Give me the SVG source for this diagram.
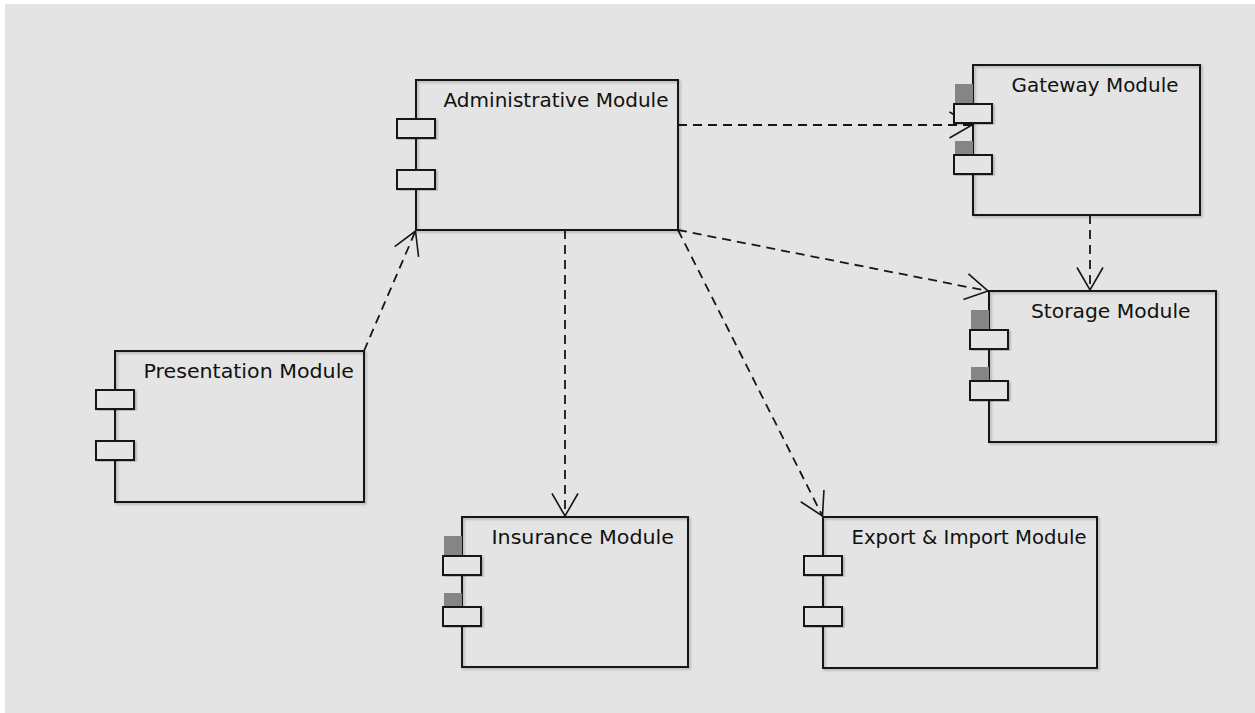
<svg xmlns="http://www.w3.org/2000/svg" width="1255" height="713" viewBox="0 0 1255 713">
  <style>
    .frame { fill: none; stroke: #161616; stroke-width: 2; }
    .port { fill: #e4e4e4; stroke: #161616; stroke-width: 2; }
    .tab { fill: #858585; }
    .label { font-family: "DejaVu Sans", "Liberation Sans", sans-serif; font-size: 20px; fill: #111111; }
    .dep { fill: none; stroke: #161616; stroke-width: 1.8; stroke-dasharray: 9 6; }
    .head { fill: none; stroke: #161616; stroke-width: 1.6; stroke-dasharray: none; }
  </style>
  <defs>
    <filter id="soft" x="-5%" y="-5%" width="115%" height="115%">
      <feDropShadow dx="1.5" dy="1.5" stdDeviation="1" flood-color="#000" flood-opacity="0.25"/>
    </filter>
    <filter id="blurTab" x="-20%" y="-20%" width="140%" height="140%">
      <feGaussianBlur stdDeviation="0.6"/>
    </filter>
    <marker id="open" viewBox="-30 -16 34 32" refX="0" refY="0" markerWidth="34" markerHeight="32" markerUnits="userSpaceOnUse" orient="auto">
      <path class="head" d="M-22.5,-13 L0,0 L-22.5,13"/>
    </marker>
  </defs>

  <!-- canvas -->
  <rect x="0" y="0" width="1255" height="713" fill="#ffffff"/>
  <rect x="5" y="4" width="1250" height="709" fill="#e4e4e4"/>

  <!-- dependencies -->
  <g id="connectors">
    <path class="dep" d="M678,125 L972,125" marker-end="url(#open)"/>
    <path class="dep" d="M1090,215 L1090,290" marker-end="url(#open)"/>
    <path class="dep" d="M678,230 L988,291" marker-end="url(#open)"/>
    <path class="dep" d="M364,351 L415.5,231" marker-end="url(#open)"/>
    <path class="dep" d="M565,230 L565,516" marker-end="url(#open)"/>
    <path class="dep" d="M678,230 L822.5,516" marker-end="url(#open)"/>
  </g>

  <!-- components -->
  <g id="administrative-module">
    <rect class="frame" x="416" y="80" width="262" height="150" filter="url(#soft)"/>
    <rect class="port" x="397" y="119" width="38" height="19" filter="url(#soft)"/>
    <rect class="port" x="397" y="170" width="38" height="19" filter="url(#soft)"/>
    <text class="label" x="443.5" y="106.5" textLength="225" lengthAdjust="spacingAndGlyphs">Administrative Module</text>
  </g>

  <g id="gateway-module">
    <rect class="frame" x="973" y="65" width="227" height="150" filter="url(#soft)"/>
    <rect class="tab" x="955" y="84" width="18" height="20" filter="url(#blurTab)"/>
    <rect class="tab" x="955" y="141" width="18" height="14" filter="url(#blurTab)"/>
    <rect class="port" x="954" y="104" width="38" height="19" filter="url(#soft)"/>
    <rect class="port" x="954" y="155" width="38" height="19" filter="url(#soft)"/>
    <text class="label" x="1011.5" y="91.5" textLength="167" lengthAdjust="spacingAndGlyphs">Gateway Module</text>
  </g>

  <g id="presentation-module">
    <rect class="frame" x="115" y="351" width="249" height="151" filter="url(#soft)"/>
    <rect class="port" x="96" y="390" width="38" height="19" filter="url(#soft)"/>
    <rect class="port" x="96" y="441" width="38" height="19" filter="url(#soft)"/>
    <text class="label" x="143.5" y="377.5" textLength="210.5" lengthAdjust="spacingAndGlyphs">Presentation Module</text>
  </g>

  <g id="insurance-module">
    <rect class="frame" x="462" y="517" width="226" height="150" filter="url(#soft)"/>
    <rect class="tab" x="444" y="536" width="18" height="20" filter="url(#blurTab)"/>
    <rect class="tab" x="444" y="593" width="18" height="14" filter="url(#blurTab)"/>
    <rect class="port" x="443" y="556" width="38" height="19" filter="url(#soft)"/>
    <rect class="port" x="443" y="607" width="38" height="19" filter="url(#soft)"/>
    <text class="label" x="491.5" y="544" textLength="182.5" lengthAdjust="spacingAndGlyphs">Insurance Module</text>
  </g>

  <g id="storage-module">
    <rect class="frame" x="989" y="291" width="227" height="151" filter="url(#soft)"/>
    <rect class="tab" x="971" y="310" width="18" height="20" filter="url(#blurTab)"/>
    <rect class="tab" x="971" y="367" width="18" height="14" filter="url(#blurTab)"/>
    <rect class="port" x="970" y="330" width="38" height="19" filter="url(#soft)"/>
    <rect class="port" x="970" y="381" width="38" height="19" filter="url(#soft)"/>
    <text class="label" x="1031" y="318" textLength="159.5" lengthAdjust="spacingAndGlyphs">Storage Module</text>
  </g>

  <g id="export-import-module">
    <rect class="frame" x="823" y="517" width="274" height="151" filter="url(#soft)"/>
    <rect class="port" x="804" y="556" width="38" height="19" filter="url(#soft)"/>
    <rect class="port" x="804" y="607" width="38" height="19" filter="url(#soft)"/>
    <text class="label" x="851.5" y="544" textLength="235" lengthAdjust="spacingAndGlyphs">Export &amp; Import Module</text>
  </g>
</svg>
